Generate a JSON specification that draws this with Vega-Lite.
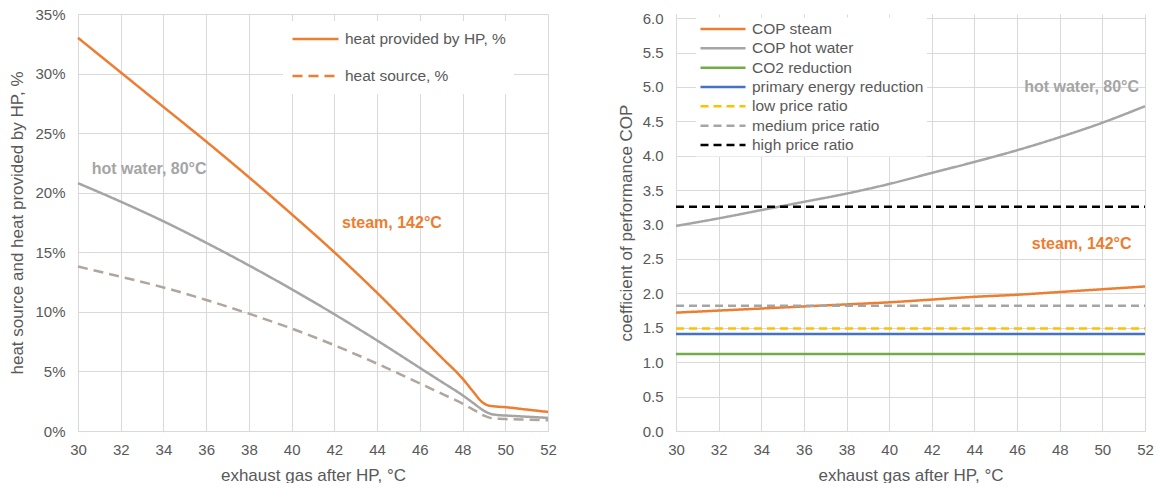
{
  "$schema": "https://vega.github.io/schema/vega-lite/v6.json",
  "background": "white",
  "padding": {"left": 8, "top": 7, "right": 0, "bottom": 0},
  "spacing": 60,
  "resolve": {"scale": {"color": "independent", "strokeDash": "independent"}, "legend": {"color": "independent", "strokeDash": "independent"}},
  "config": {
    "font": "Liberation Sans",
    "view": {"stroke": null},
    "axis": {
      "labelColor": "#595959", "titleColor": "#595959", "labelFontSize": 15, "titleFontSize": 17,
      "titleFontWeight": "normal", "gridColor": "#D9D9D9", "domainColor": "#D9D9D9", "ticks": false,
      "labelPadding": 11, "titlePadding": 10, "labelFlush": false, "labelOverlap": false
    },
    "legend": {"labelColor": "#595959", "labelFontSize": 15.5, "labelFont": "Liberation Sans", "labelLimit": 400}
  },
  "datasets": {
    "left": [
      {"x": 30, "y": 33.0, "series": "steam", "kind": "heat provided by HP, %"},
      {"x": 32, "y": 30.1, "series": "steam", "kind": "heat provided by HP, %"},
      {"x": 34, "y": 27.2, "series": "steam", "kind": "heat provided by HP, %"},
      {"x": 36, "y": 24.3, "series": "steam", "kind": "heat provided by HP, %"},
      {"x": 38, "y": 21.3, "series": "steam", "kind": "heat provided by HP, %"},
      {"x": 40, "y": 18.2, "series": "steam", "kind": "heat provided by HP, %"},
      {"x": 42, "y": 15.0, "series": "steam", "kind": "heat provided by HP, %"},
      {"x": 44, "y": 11.6, "series": "steam", "kind": "heat provided by HP, %"},
      {"x": 46, "y": 8.0, "series": "steam", "kind": "heat provided by HP, %"},
      {"x": 47, "y": 6.2, "series": "steam", "kind": "heat provided by HP, %"},
      {"x": 48, "y": 4.4, "series": "steam", "kind": "heat provided by HP, %"},
      {"x": 48.5, "y": 3.3, "series": "steam", "kind": "heat provided by HP, %"},
      {"x": 48.9, "y": 2.45, "series": "steam", "kind": "heat provided by HP, %"},
      {"x": 49.2, "y": 2.15, "series": "steam", "kind": "heat provided by HP, %"},
      {"x": 49.6, "y": 2.05, "series": "steam", "kind": "heat provided by HP, %"},
      {"x": 50, "y": 2.0, "series": "steam", "kind": "heat provided by HP, %"},
      {"x": 51, "y": 1.8, "series": "steam", "kind": "heat provided by HP, %"},
      {"x": 52, "y": 1.6, "series": "steam", "kind": "heat provided by HP, %"},
      {"x": 30, "y": 20.8, "series": "hot water", "kind": "heat provided by HP, %"},
      {"x": 32, "y": 19.25, "series": "hot water", "kind": "heat provided by HP, %"},
      {"x": 34, "y": 17.6, "series": "hot water", "kind": "heat provided by HP, %"},
      {"x": 36, "y": 15.8, "series": "hot water", "kind": "heat provided by HP, %"},
      {"x": 38, "y": 13.9, "series": "hot water", "kind": "heat provided by HP, %"},
      {"x": 40, "y": 11.9, "series": "hot water", "kind": "heat provided by HP, %"},
      {"x": 42, "y": 9.8, "series": "hot water", "kind": "heat provided by HP, %"},
      {"x": 44, "y": 7.6, "series": "hot water", "kind": "heat provided by HP, %"},
      {"x": 46, "y": 5.3, "series": "hot water", "kind": "heat provided by HP, %"},
      {"x": 47, "y": 4.15, "series": "hot water", "kind": "heat provided by HP, %"},
      {"x": 48, "y": 3.0, "series": "hot water", "kind": "heat provided by HP, %"},
      {"x": 48.5, "y": 2.35, "series": "hot water", "kind": "heat provided by HP, %"},
      {"x": 49, "y": 1.7, "series": "hot water", "kind": "heat provided by HP, %"},
      {"x": 49.3, "y": 1.45, "series": "hot water", "kind": "heat provided by HP, %"},
      {"x": 49.7, "y": 1.33, "series": "hot water", "kind": "heat provided by HP, %"},
      {"x": 50, "y": 1.3, "series": "hot water", "kind": "heat provided by HP, %"},
      {"x": 51, "y": 1.2, "series": "hot water", "kind": "heat provided by HP, %"},
      {"x": 52, "y": 1.1, "series": "hot water", "kind": "heat provided by HP, %"},
      {"x": 30, "y": 13.8, "series": "heat source", "kind": "heat source, %"},
      {"x": 32, "y": 12.95, "series": "heat source", "kind": "heat source, %"},
      {"x": 34, "y": 12.05, "series": "heat source", "kind": "heat source, %"},
      {"x": 36, "y": 11.0, "series": "heat source", "kind": "heat source, %"},
      {"x": 38, "y": 9.85, "series": "heat source", "kind": "heat source, %"},
      {"x": 40, "y": 8.6, "series": "heat source", "kind": "heat source, %"},
      {"x": 42, "y": 7.2, "series": "heat source", "kind": "heat source, %"},
      {"x": 44, "y": 5.65, "series": "heat source", "kind": "heat source, %"},
      {"x": 46, "y": 4.0, "series": "heat source", "kind": "heat source, %"},
      {"x": 47, "y": 3.15, "series": "heat source", "kind": "heat source, %"},
      {"x": 48, "y": 2.3, "series": "heat source", "kind": "heat source, %"},
      {"x": 48.5, "y": 1.8, "series": "heat source", "kind": "heat source, %"},
      {"x": 49, "y": 1.3, "series": "heat source", "kind": "heat source, %"},
      {"x": 49.3, "y": 1.1, "series": "heat source", "kind": "heat source, %"},
      {"x": 49.7, "y": 1.02, "series": "heat source", "kind": "heat source, %"},
      {"x": 50, "y": 1.0, "series": "heat source", "kind": "heat source, %"},
      {"x": 51, "y": 0.95, "series": "heat source", "kind": "heat source, %"},
      {"x": 52, "y": 0.9, "series": "heat source", "kind": "heat source, %"}
    ],
    "right": [
      {"x": 30, "y": 1.72, "series": "COP steam"},
      {"x": 32, "y": 1.75, "series": "COP steam"},
      {"x": 34, "y": 1.78, "series": "COP steam"},
      {"x": 36, "y": 1.81, "series": "COP steam"},
      {"x": 38, "y": 1.84, "series": "COP steam"},
      {"x": 40, "y": 1.87, "series": "COP steam"},
      {"x": 42, "y": 1.91, "series": "COP steam"},
      {"x": 44, "y": 1.95, "series": "COP steam"},
      {"x": 46, "y": 1.98, "series": "COP steam"},
      {"x": 48, "y": 2.02, "series": "COP steam"},
      {"x": 50, "y": 2.06, "series": "COP steam"},
      {"x": 52, "y": 2.10, "series": "COP steam"},
      {"x": 30, "y": 2.98, "series": "COP hot water"},
      {"x": 32, "y": 3.09, "series": "COP hot water"},
      {"x": 34, "y": 3.21, "series": "COP hot water"},
      {"x": 36, "y": 3.33, "series": "COP hot water"},
      {"x": 38, "y": 3.45, "series": "COP hot water"},
      {"x": 40, "y": 3.59, "series": "COP hot water"},
      {"x": 42, "y": 3.75, "series": "COP hot water"},
      {"x": 44, "y": 3.91, "series": "COP hot water"},
      {"x": 46, "y": 4.08, "series": "COP hot water"},
      {"x": 48, "y": 4.27, "series": "COP hot water"},
      {"x": 50, "y": 4.48, "series": "COP hot water"},
      {"x": 52, "y": 4.72, "series": "COP hot water"},
      {"x": 30, "y": 1.12, "series": "CO2 reduction"},
      {"x": 52, "y": 1.12, "series": "CO2 reduction"},
      {"x": 30, "y": 1.41, "series": "primary energy reduction"},
      {"x": 52, "y": 1.41, "series": "primary energy reduction"},
      {"x": 30, "y": 1.49, "series": "low price ratio"},
      {"x": 52, "y": 1.49, "series": "low price ratio"},
      {"x": 30, "y": 1.82, "series": "medium price ratio"},
      {"x": 52, "y": 1.82, "series": "medium price ratio"},
      {"x": 30, "y": 3.26, "series": "high price ratio"},
      {"x": 52, "y": 3.26, "series": "high price ratio"}
    ]
  },
  "hconcat": [
    {
      "width": 470,
      "height": 417,
      "encoding": {
        "x": {"field": "x", "type": "quantitative", "scale": {"domain": [30, 52], "nice": false, "zero": false},
              "axis": {"values": [30, 32, 34, 36, 38, 40, 42, 44, 46, 48, 50, 52], "title": "exhaust gas after HP, °C"}},
        "y": {"field": "y", "type": "quantitative", "scale": {"domain": [0, 35], "nice": false},
              "axis": {"values": [0, 5, 10, 15, 20, 25, 30, 35], "labelExpr": "datum.value + '%'", "title": "heat source and heat provided by HP, %", "labelPadding": 13, "titlePadding": 8}}
      },
      "layer": [
        {
          "data": {"name": "left"},
          "mark": {"type": "line", "interpolate": "monotone", "strokeWidth": 2.5},
          "encoding": {
            "color": {"field": "series", "type": "nominal", "scale": {"domain": ["steam", "hot water", "heat source"], "range": ["#ED7D31", "#A5A5A5", "#B0A69D"]}, "legend": null},
            "strokeDash": {"field": "kind", "type": "nominal", "scale": {"domain": ["heat provided by HP, %", "heat source, %"], "range": [[1, 0], [10, 6]]},
              "legend": {"title": null, "orient": "none", "legendX": 205, "legendY": 7, "symbolType": "stroke", "symbolSize": 2116, "symbolStrokeWidth": 2.5, "symbolStrokeColor": "#ED7D31", "clipHeight": 20, "rowPadding": 17, "labelOffset": 5, "fillColor": "white", "padding": 8}}
          }
        },
        {
          "data": {"values": [{"x": 30.64, "y": 22.0, "label": "hot water, 80°C"}]},
          "mark": {"type": "text", "align": "left", "baseline": "middle", "fontWeight": "bold", "fontSize": 16, "color": "#A5A5A5"},
          "encoding": {"text": {"field": "label"}}
        },
        {
          "data": {"values": [{"x": 42.36, "y": 17.46, "label": "steam, 142°C"}]},
          "mark": {"type": "text", "align": "left", "baseline": "middle", "fontWeight": "bold", "fontSize": 16, "color": "#ED7D31"},
          "encoding": {"text": {"field": "label"}}
        }
      ]
    },
    {
      "width": 469,
      "height": 417,
      "encoding": {
        "x": {"field": "x", "type": "quantitative", "scale": {"domain": [30, 52], "nice": false, "zero": false},
              "axis": {"values": [30, 32, 34, 36, 38, 40, 42, 44, 46, 48, 50, 52], "title": "exhaust gas after HP, °C"}},
        "y": {"field": "y", "type": "quantitative", "scale": {"domain": [0, 6.06], "nice": false},
              "axis": {"values": [0, 0.5, 1, 1.5, 2, 2.5, 3, 3.5, 4, 4.5, 5, 5.5, 6], "format": ".1f", "title": "coefficient of performance COP", "labelPadding": 13, "titlePadding": 7}}
      },
      "layer": [
        {
          "data": {"name": "right"},
          "mark": {"type": "line", "interpolate": "monotone", "strokeWidth": 2.5},
          "encoding": {
            "color": {"field": "series", "type": "nominal",
              "scale": {"domain": ["COP steam", "COP hot water", "CO2 reduction", "primary energy reduction", "low price ratio", "medium price ratio", "high price ratio"],
                        "range": ["#ED7D31", "#A5A5A5", "#70AD47", "#4472C4", "#FFC000", "#A5A5A5", "#000000"]},
              "legend": {"title": null, "orient": "none", "legendX": 20, "legendY": 3.5, "symbolType": "stroke", "symbolSize": 2025, "symbolStrokeWidth": 2.5, "clipHeight": 17, "rowPadding": 2.33, "labelOffset": 5, "fillColor": "white", "padding": 3}},
            "strokeDash": {"field": "series", "type": "nominal",
              "scale": {"domain": ["COP steam", "COP hot water", "CO2 reduction", "primary energy reduction", "low price ratio", "medium price ratio", "high price ratio"],
                        "range": [[1, 0], [1, 0], [1, 0], [1, 0], [8, 5], [8, 5], [8, 5]]},
              "legend": {"title": null, "orient": "none", "legendX": 20, "legendY": 3.5, "symbolType": "stroke", "symbolSize": 2025, "symbolStrokeWidth": 2.5, "clipHeight": 17, "rowPadding": 2.33, "labelOffset": 5, "fillColor": "white", "padding": 3}}
          }
        },
        {
          "data": {"values": [{"x": 51.72, "y": 5.0, "label": "hot water, 80°C"}]},
          "mark": {"type": "text", "align": "right", "baseline": "middle", "fontWeight": "bold", "fontSize": 16, "color": "#A5A5A5"},
          "encoding": {"text": {"field": "label"}}
        },
        {
          "data": {"values": [{"x": 51.37, "y": 2.72, "label": "steam, 142°C"}]},
          "mark": {"type": "text", "align": "right", "baseline": "middle", "fontWeight": "bold", "fontSize": 16, "color": "#ED7D31"},
          "encoding": {"text": {"field": "label"}}
        }
      ]
    }
  ]
}
